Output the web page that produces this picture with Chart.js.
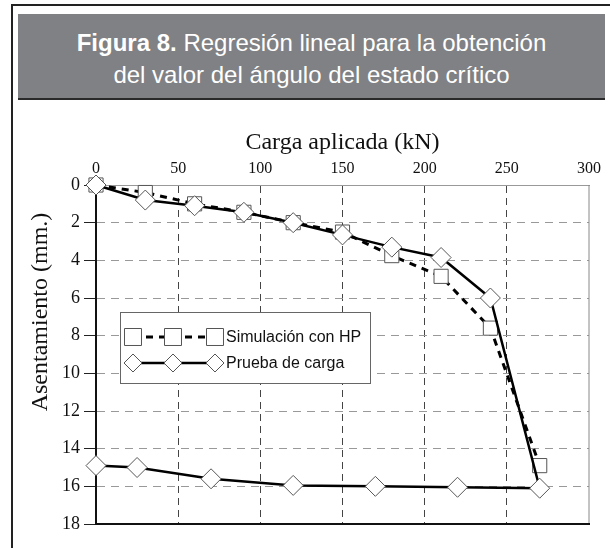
<!DOCTYPE html>
<html>
<head>
<meta charset="utf-8">
<script src="https://cdn.jsdelivr.net/npm/chart.js@4"></script>
<style>
  html, body { margin: 0; padding: 0; background: #fff; }
  body { width: 610px; height: 548px; position: relative; overflow: hidden; }
  .frame-top  { position: absolute; left: 11px; top: 4px; right: 0; height: 2px; background: #222; }
  .frame-left { position: absolute; left: 11px; top: 4px; bottom: 0; width: 2px; background: #222; }
  #head {
    position: absolute; left: 18px; top: 14px; width: 587px; height: 71px;
    padding-top: 13px;
    background: #808184; border-bottom: 2px solid #2a2a2a;
    color: #fff; text-align: center;
    font-family: "Liberation Sans", Arial, sans-serif; font-size: 24px; line-height: 32px;
  }
  #wrap { position: absolute; left: 14px; top: 104px; width: 596px; height: 444px; }
</style>
</head>
<body>
<div class="frame-top"></div>
<div class="frame-left"></div>
<div id="head"><b>Figura 8.</b> Regresión lineal para la obtención<br>del valor del ángulo del estado crítico</div>
<div id="wrap"><canvas id="chart"></canvas></div>

<script>
// ============================================================
//  Data — load (kN) vs settlement (mm)
// ============================================================

const simLoad    = [0, 30, 60, 90, 120, 150, 180, 210, 240, 270];
const simSettle  = [0, 0.4, 1.0, 1.45, 2.0, 2.5, 3.75, 4.85, 7.6, 14.9];

const testLoad   = [0, 30, 60, 90, 120, 150, 180, 210, 240, 270, 220, 170, 120, 70, 25, 0];
const testSettle = [0, 0.8, 1.1, 1.45, 2.0, 2.65, 3.3, 3.85, 6.0, 16.1, 16.05, 16.0, 15.95, 15.6, 15.0, 14.9];

const xTicks = [0, 50, 100, 150, 200, 250, 300];
const yTicks = [0, 2, 4, 6, 8, 10, 12, 14, 16, 18];

const seriesNames = ['Simulación con HP', 'Prueba de carga'];
const xTitle = 'Carga aplicada (kN)';
const yTitle = 'Asentamiento (mm.)';

const SERIF = '"Liberation Serif", "Times New Roman", serif';
const SANS  = '"Liberation Sans", Arial, sans-serif';

function toPoints(xs, ys) {
  return xs.map(function(x, i) { return { x: x, y: ys[i] }; });
}

// y title sits off-centre in the original, so draw it ourselves
const yTitlePlugin = {
  id: 'yTitle',
  afterDraw(chart) {
    const ctx = chart.ctx;
    ctx.save();
    ctx.translate(27, 208);
    ctx.rotate(-Math.PI / 2);
    ctx.font = '24px ' + SERIF;
    ctx.fillStyle = '#111';
    ctx.textAlign = 'center';
    ctx.textBaseline = 'middle';
    ctx.fillText(yTitle, 0, 0);
    ctx.restore();
  }
};

// solid bottom / right edges of the plot box
const framePlugin = {
  id: 'plotFrame',
  beforeDatasetsDraw(chart) {
    const { ctx, chartArea: a } = chart;
    ctx.save();
    ctx.lineWidth = 1;
    ctx.strokeStyle = '#888';
    ctx.beginPath();
    ctx.moveTo(a.right, a.top);
    ctx.lineTo(a.right, a.bottom);
    ctx.stroke();
    ctx.lineWidth = 2;
    ctx.strokeStyle = '#111';
    ctx.beginPath();
    ctx.moveTo(a.left, a.bottom);
    ctx.lineTo(a.right + 1, a.bottom);
    ctx.stroke();
    ctx.restore();
  }
};

// legend box with three markers per row, like the original
const legendPlugin = {
  id: 'boxLegend',
  afterDatasetsDraw(chart) {
    const { ctx, chartArea: a } = chart;
    const bx = a.left + 24, by = a.top + 127, bw = 250, bh = 71;
    ctx.save();
    ctx.fillStyle = '#fff';
    ctx.fillRect(bx, by, bw, bh);
    ctx.strokeStyle = '#666';
    ctx.lineWidth = 1;
    ctx.strokeRect(bx + 0.5, by + 0.5, bw, bh);

    const rows = [by + 25, by + 51];
    const marks = [bx + 13, bx + 53, bx + 95];
    chart.data.datasets.forEach(function(ds, i) {
      const y = rows[i];
      const r = ds.pointStyle === 'rect' ? 12 : 9;
      ctx.save();
      ctx.strokeStyle = ds.borderColor;
      ctx.lineWidth = ds.borderWidth;
      ctx.setLineDash(ds.borderDash || []);
      ctx.beginPath();
      ctx.moveTo(marks[0], y);
      ctx.lineTo(marks[2], y);
      ctx.stroke();
      ctx.restore();
      marks.forEach(function(mx) {
        ctx.fillStyle = ds.pointBackgroundColor;
        ctx.strokeStyle = ds.pointBorderColor;
        ctx.lineWidth = ds.pointBorderWidth;
        Chart.helpers.drawPoint(ctx, { pointStyle: ds.pointStyle, radius: r, borderWidth: 1, rotation: 0 }, mx, y);
      });
      ctx.fillStyle = '#111';
      ctx.font = '16px ' + SANS;
      ctx.textAlign = 'left';
      ctx.textBaseline = 'middle';
      ctx.fillText(ds.label, marks[2] + 11, y + 1);
    });
    ctx.restore();
  }
};

new Chart(document.getElementById('chart'), {
  type: 'line',
  data: {
    datasets: [{
      label: seriesNames[0],
      data: toPoints(simLoad, simSettle),
      borderColor: '#000',
      borderWidth: 3,
      borderDash: [7, 6],
      pointStyle: 'rect',
      pointRadius: 10,
      pointBackgroundColor: '#fff',
      pointBorderColor: '#555',
      pointBorderWidth: 1,
      tension: 0,
      clip: false,
      order: 1
    }, {
      label: seriesNames[1],
      data: toPoints(testLoad, testSettle),
      borderColor: '#000',
      borderWidth: 2.5,
      pointStyle: 'rectRot',
      pointRadius: 10,
      pointBackgroundColor: '#fff',
      pointBorderColor: '#555',
      pointBorderWidth: 1,
      tension: 0,
      clip: false,
      order: 0
    }]
  },
  options: {
    responsive: true,
    maintainAspectRatio: false,
    animation: false,
    layout: { padding: { left: 0, top: 0, right: 21, bottom: 24 } },
    plugins: {
      legend: { display: false },
      tooltip: { enabled: false }
    },
    scales: {
      x: {
        type: 'linear',
        position: 'top',
        min: 0, max: 300,
        afterBuildTicks: function(s) { s.ticks = xTicks.map(function(v) { return { value: v }; }); },
        afterFit: function(s) { s.height = 81; },
        ticks: { color: '#111', padding: 7, font: { family: SERIF, size: 16 } },
        grid: {
          drawTicks: false,
          lineWidth: 1,
          color: function(c) { return (c.tick && (c.tick.value === 0 || c.tick.value === 300)) ? 'rgba(0,0,0,0)' : '#444'; }
        },
        border: { color: '#999', width: 1, dash: [7, 5] },
        title: {
          display: true, text: xTitle, color: '#111',
          font: { family: SERIF, size: 24 },
          padding: { top: 24, bottom: 0 }
        }
      },
      y: {
        type: 'linear',
        reverse: true,
        min: 0, max: 18,
        afterBuildTicks: function(s) { s.ticks = yTicks.map(function(v) { return { value: v }; }); },
        afterFit: function(s) { s.width = 82; },
        ticks: { color: '#111', padding: 4, font: { family: SERIF, size: 18 } },
        grid: {
          tickLength: 12,
          tickColor: '#222',
          tickWidth: 1,
          lineWidth: 1,
          color: function(c) { return (c.tick && (c.tick.value === 0 || c.tick.value === 18)) ? 'rgba(0,0,0,0)' : '#999'; }
        },
        border: { color: '#111', width: 2, dash: [8, 6] }
      }
    }
  },
  plugins: [framePlugin, legendPlugin, yTitlePlugin]
});
</script>
</body>
</html>
